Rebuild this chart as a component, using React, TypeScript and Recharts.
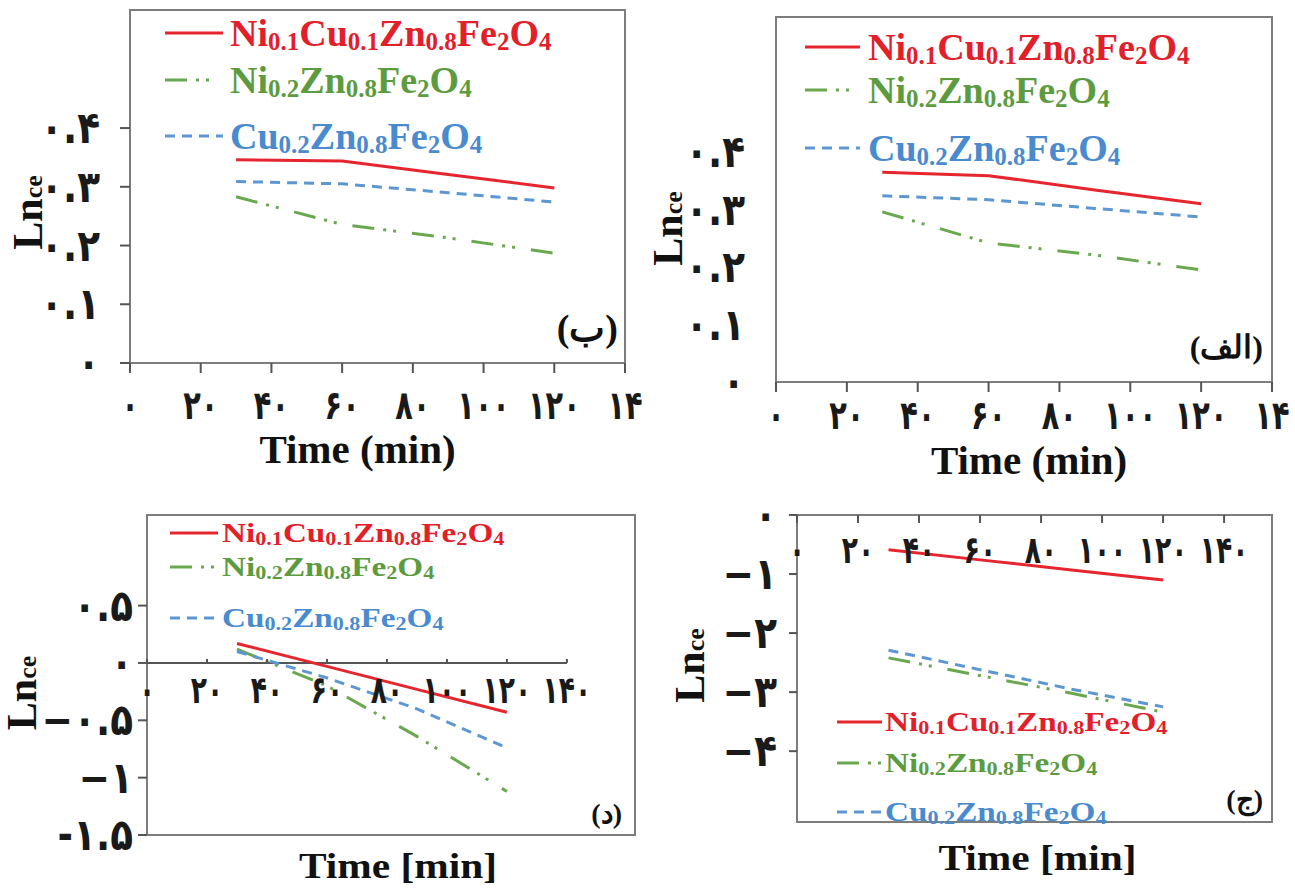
import React from 'react'
import {
  LineChart,
  Line,
  XAxis,
  YAxis,
  ReferenceArea,
  ReferenceLine,
  ReferenceDot,
  Legend,
} from 'recharts'

// sampling times (min), shared by every panel
const timeMin = [30, 60, 90, 120]

// panel (الف)
const alefNiCu = [0.365, 0.359, 0.334, 0.31]
const alefNi = [0.296, 0.242, 0.221, 0.195]
const alefCu = [0.324, 0.317, 0.302, 0.287]

// panel (ب)
const beNiCu = [0.346, 0.344, 0.321, 0.298]
const beNi = [0.283, 0.236, 0.213, 0.187]
const beCu = [0.309, 0.305, 0.29, 0.274]

// panel (ج)
const jimNiCu = [-0.59, -0.76, -0.93, -1.1]
const jimNi = [-2.42, -2.72, -3.02, -3.34]
const jimCu = [-2.29, -2.62, -2.95, -3.25]

// panel (د)
const dalNiCu = [0.17, -0.03, -0.23, -0.43]
const dalNi = [0.12, -0.2, -0.64, -1.12]
const dalCu = [0.1, -0.13, -0.4, -0.74]

const seriesNames = ['Ni0.1Cu0.1Zn0.8Fe2O4', 'Ni0.2Zn0.8Fe2O4', 'Cu0.2Zn0.8Fe2O4']

const xTicks = [0, 20, 40, 60, 80, 100, 120, 140]
const xLabelsCut = ['۰', '۲۰', '۴۰', '۶۰', '۸۰', '۱۰۰', '۱۲۰', '۱۴']
const xLabels = ['۰', '۲۰', '۴۰', '۶۰', '۸۰', '۱۰۰', '۱۲۰', '۱۴۰']
const yTicksPos = [0, 0.1, 0.2, 0.3, 0.4]
const yLabelsPos = ['۰', '۰.۱', '۰.۲', '۰.۳', '۰.۴']
const yTicksDal = [-1.5, -1, -0.5, 0, 0.5]
const yLabelsDal = ['-۱.۵', '−۱', '−۰.۵', '۰', '۰.۵']
const yTicksJim = [-4, -3, -2, -1, 0]
const yLabelsJim = ['−۴', '−۳', '−۲', '−۱', '۰']

const SERIF = "'Liberation Serif', 'Times New Roman', serif"
const DIGITS = "'DejaVu Sans', sans-serif"
const AXIS = '#555'
const BOX = '#7d7d7d'

const SERIES = [
  { key: 'niCu', color: '#e6262f', textColor: '#e2202a', dash: undefined },
  { key: 'ni', color: '#6aa84f', textColor: '#5c9c3e', dash: '22 9 3 7 3 16' },
  { key: 'cu', color: '#5d97d2', textColor: '#4a8bcf', dash: '10 7' },
]

function buildRows(niCu: number[], ni: number[], cu: number[]) {
  return timeMin.map((t, i) => ({ t, niCu: niCu[i], ni: ni[i], cu: cu[i] }))
}

const panels = [
  {
    id: 'be',
    left: 0, top: 0, width: 650, height: 480,
    plot: { left: 130, top: 10, right: 25, bottom: 117 },
    rows: buildRows(beNiCu, beNi, beCu),
    xDomain: [0, 140], yDomain: [0, 0.601],
    yTicks: yTicksPos, yLabels: yLabelsPos, yMark: 10, yLabelGap: 30, yFont: 44, ySx: 0.85,
    xMode: 'bottom', xLabels: xLabelsCut, xMark: 10, xLabelDy: 42, xFont: 40, xSx: 0.72,
    title: 'Time (min)', titleDx: -20, titleDy: 100, titleFont: 41, titleSx: 1,
    yTitleX: 28, yTitleDy: 26,
    corner: '(ب)', cornerFont: 38, cornerDx: 7, cornerDy: 22,
    legend: { left: 165, top: 13, rowH: 40, gaps: [0, 7, 16], lineLen: 58, gap: 7, font: 38, sub: 25, sx: 1 },
  },
  {
    id: 'alef',
    left: 640, top: 0, width: 655, height: 490,
    plot: { left: 136, top: 17, right: 23, bottom: 108 },
    rows: buildRows(alefNiCu, alefNi, alefCu),
    xDomain: [0, 140], yDomain: [0, 0.635],
    yTicks: yTicksPos, yLabels: yLabelsPos, yMark: 0, yLabelGap: 31, yFont: 44, ySx: 0.85,
    xMode: 'bottom', xLabels: xLabelsCut, xMark: 10, xLabelDy: 33, xFont: 40, xSx: 0.72,
    title: 'Time (min)', titleDx: 5, titleDy: 92, titleFont: 41, titleSx: 1,
    yTitleX: 28, yTitleDy: 29,
    corner: '(الف)', cornerFont: 32, cornerDx: 9, cornerDy: 24,
    legend: { left: 165, top: 27, rowH: 40, gaps: [0, 3, 18], lineLen: 55, gap: 8, font: 38, sub: 25, sx: 1 },
  },
  {
    id: 'dal',
    left: 0, top: 490, width: 650, height: 402,
    plot: { left: 147, top: 25, right: 15, bottom: 57 },
    rows: buildRows(dalNiCu, dalNi, dalCu),
    xDomain: [0, 162.7], yDomain: [-1.5, 1.29],
    yTicks: yTicksDal, yLabels: yLabelsDal, yMark: 9, yLabelGap: 14, yFont: 44, ySx: 0.85,
    xMode: 'inline', xLabels: xLabels, xMark: -4, xLabelDy: 27, xFont: 38, xSx: 0.7, zeroLine: 140,
    title: 'Time [min]', titleDx: 7, titleDy: 43, titleFont: 36, titleSx: 1.15,
    yTitleX: 22, yTitleDy: 18,
    corner: '(د)', cornerFont: 28, cornerDx: 13, cornerDy: 12,
    legend: { left: 170, top: 27, rowH: 32, gaps: [0, 2, 19], lineLen: 48, gap: 4, font: 27, sub: 18, sx: 1.23 },
  },
  {
    id: 'jim',
    left: 640, top: 490, width: 655, height: 402,
    plot: { left: 157, top: 25, right: 23, bottom: 70 },
    rows: buildRows(jimNiCu, jimNi, jimCu),
    xDomain: [0, 155.7], yDomain: [-5.2, 0],
    yTicks: yTicksJim, yLabels: yLabelsJim, yMark: 8, yLabelGap: 20, yFont: 44, ySx: 0.85,
    xMode: 'inline', xLabels: xLabels, xMark: 8, xLabelDy: 35, xFont: 38, xSx: 0.7,
    title: 'Time [min]', titleDx: 3, titleDy: 48, titleFont: 36, titleSx: 1.15,
    yTitleX: 50, yTitleDy: -3,
    corner: '(ج)', cornerFont: 28, cornerDx: 9, cornerDy: 13,
    legend: { left: 197, top: 216, rowH: 32, gaps: [0, 9, 17], lineLen: 45, gap: 3, font: 27, sub: 18, sx: 1.23 },
  },
]

type Cfg = (typeof panels)[number]

function Formula({ text, sub, font }: { text: string; sub: number; font: number }) {
  const parts = text.match(/[A-Z][a-z]?|[\d.]+/g) || []
  return (
    <>
      {parts.map((p, i) =>
        /^[\d.]+$/.test(p) ? (
          <span key={i} style={{ fontSize: sub, position: 'relative', top: Math.round(font * 0.1) }}>
            {p}
          </span>
        ) : (
          <span key={i}>{p}</span>
        ),
      )}
    </>
  )
}

function FormulaLegend({ cfg }: { cfg: Cfg }) {
  const lg = cfg.legend
  return (
    <div style={{ display: 'flex', flexDirection: 'column' }}>
      {SERIES.map((s, i) => (
        <div
          key={s.key}
          style={{ display: 'flex', alignItems: 'center', height: lg.rowH, marginTop: lg.gaps[i] }}
        >
          <svg width={lg.lineLen} height={6} style={{ display: 'block', flex: 'none' }}>
            <line x1={0} y1={3} x2={lg.lineLen} y2={3} stroke={s.color} strokeWidth={3} strokeDasharray={s.dash} />
          </svg>
          <span
            style={{
              marginLeft: lg.gap,
              color: s.textColor,
              fontFamily: SERIF,
              fontWeight: 700,
              fontSize: lg.font,
              lineHeight: 1,
              whiteSpace: 'nowrap',
              display: 'inline-block',
              transform: `scaleX(${lg.sx})`,
              transformOrigin: 'left center',
            }}
          >
            <Formula text={seriesNames[i]} sub={lg.sub} font={lg.font} />
          </span>
        </div>
      ))}
    </div>
  )
}

// Persian digits, drawn a little narrower than the font to match the scan
function Digits({ x, y, text, size, sx, anchor }: any) {
  return (
    <text
      transform={`translate(${x},${y}) scale(${sx},1)`}
      textAnchor={anchor}
      dominantBaseline="central"
      fontFamily={DIGITS}
      fontWeight={700}
      fontSize={size}
      fill="#1a1a1a"
    >
      {text}
    </text>
  )
}

function YTick({ x, y, payload, cfg }: any) {
  const label = cfg.yLabels[cfg.yTicks.indexOf(payload.value)]
  return <Digits x={x + cfg.yMark - cfg.yLabelGap} y={y} text={label} size={cfg.yFont} sx={cfg.ySx} anchor="end" />
}

function XTick({ x, y, payload, cfg }: any) {
  const label = cfg.xLabels[xTicks.indexOf(payload.value)]
  return <Digits x={x} y={y - cfg.xMark + cfg.xLabelDy} text={label} size={cfg.xFont} sx={cfg.xSx} anchor="middle" />
}

function InlineTick({ cx, cy, label, cfg }: any) {
  if (cx == null || cy == null) return null
  return (
    <g>
      <line x1={cx} y1={cy} x2={cx} y2={cy + cfg.xMark} stroke={AXIS} strokeWidth={2} />
      <Digits x={cx} y={cy + cfg.xLabelDy} text={label} size={cfg.xFont} sx={cfg.xSx} anchor="middle" />
    </g>
  )
}

function XTitle({ viewBox, cfg }: any) {
  if (!viewBox) return null
  const cx = viewBox.x + viewBox.width / 2 + cfg.titleDx
  const y = viewBox.y + cfg.titleDy
  return (
    <text
      transform={`translate(${cx},${y}) scale(${cfg.titleSx},1)`}
      textAnchor="middle"
      fontFamily={SERIF}
      fontWeight={700}
      fontSize={cfg.titleFont}
      fill="#111"
    >
      {cfg.title}
    </text>
  )
}

function YTitle({ viewBox, cfg }: any) {
  if (!viewBox) return null
  const cx = viewBox.x + cfg.yTitleX
  const cy = viewBox.y + viewBox.height / 2 + cfg.yTitleDy
  return (
    <text
      transform={`translate(${cx},${cy}) rotate(-90)`}
      x={0}
      y={14}
      textAnchor="middle"
      fontFamily={SERIF}
      fontWeight={700}
      fill="#111"
    >
      <tspan fontSize={42}>Ln</tspan>
      <tspan fontSize={26}>ce</tspan>
    </text>
  )
}

function CornerLabel({ viewBox, cfg }: any) {
  if (!viewBox) return null
  return (
    <text
      x={viewBox.x + viewBox.width - cfg.cornerDx}
      y={viewBox.y + viewBox.height - cfg.cornerDy}
      textAnchor="end"
      fontFamily={SERIF}
      fontWeight={700}
      fontSize={cfg.cornerFont}
      fill="#111"
    >
      {cfg.corner}
    </text>
  )
}

function Panel({ cfg }: { cfg: Cfg }) {
  const inline = cfg.xMode === 'inline'
  return (
    <div style={{ position: 'absolute', left: cfg.left, top: cfg.top }}>
      <LineChart
        width={cfg.width}
        height={cfg.height}
        data={cfg.rows}
        margin={{ top: cfg.plot.top, right: cfg.plot.right, left: 0, bottom: 0 }}
      >
        <XAxis
          dataKey="t"
          type="number"
          domain={cfg.xDomain}
          ticks={xTicks}
          interval={0}
          height={cfg.plot.bottom}
          axisLine={false}
          tickLine={inline ? false : { stroke: AXIS, strokeWidth: 2 }}
          tickSize={inline ? 0 : cfg.xMark}
          tickMargin={0}
          tick={inline ? false : (p: any) => <XTick {...p} cfg={cfg} />}
          label={(p: any) => <XTitle viewBox={p.viewBox} cfg={cfg} />}
        />
        <YAxis
          type="number"
          domain={cfg.yDomain}
          ticks={cfg.yTicks}
          interval={0}
          width={cfg.plot.left}
          axisLine={false}
          tickLine={cfg.yMark ? { stroke: AXIS, strokeWidth: 2 } : false}
          tickSize={cfg.yMark}
          tickMargin={0}
          tick={(p: any) => <YTick {...p} cfg={cfg} />}
          label={(p: any) => <YTitle viewBox={p.viewBox} cfg={cfg} />}
        />
        <ReferenceArea
          x1={cfg.xDomain[0]}
          x2={cfg.xDomain[1]}
          y1={cfg.yDomain[0]}
          y2={cfg.yDomain[1]}
          fill="none"
          stroke={BOX}
          strokeWidth={2}
          label={(p: any) => <CornerLabel viewBox={p.viewBox} cfg={cfg} />}
        />
        {cfg.zeroLine ? (
          <ReferenceLine
            segment={[
              { x: 0, y: 0 },
              { x: cfg.zeroLine, y: 0 },
            ]}
            stroke={AXIS}
            strokeWidth={2}
          />
        ) : null}
        {inline &&
          xTicks.map((t, i) => (
            <ReferenceDot
              key={t}
              x={t}
              y={0}
              r={1}
              shape={(p: any) => <InlineTick cx={p.cx} cy={p.cy} label={cfg.xLabels[i]} cfg={cfg} />}
            />
          ))}
        {SERIES.map((s) => (
          <Line
            key={s.key}
            type="linear"
            dataKey={s.key}
            stroke={s.color}
            strokeWidth={3}
            strokeDasharray={s.dash}
            dot={false}
            activeDot={false}
            isAnimationActive={false}
          />
        ))}
        <Legend
          layout="vertical"
          align="center"
          verticalAlign="middle"
          wrapperStyle={{ left: cfg.legend.left, top: cfg.legend.top, width: 'auto', height: 'auto' }}
          content={() => <FormulaLegend cfg={cfg} />}
        />
      </LineChart>
    </div>
  )
}

export default function App() {
  return (
    <div
      style={{
        position: 'absolute',
        left: 0,
        top: 0,
        width: 1295,
        height: 892,
        background: '#fff',
        overflow: 'hidden',
      }}
    >
      {panels.map((cfg) => (
        <Panel key={cfg.id} cfg={cfg} />
      ))}
    </div>
  )
}
